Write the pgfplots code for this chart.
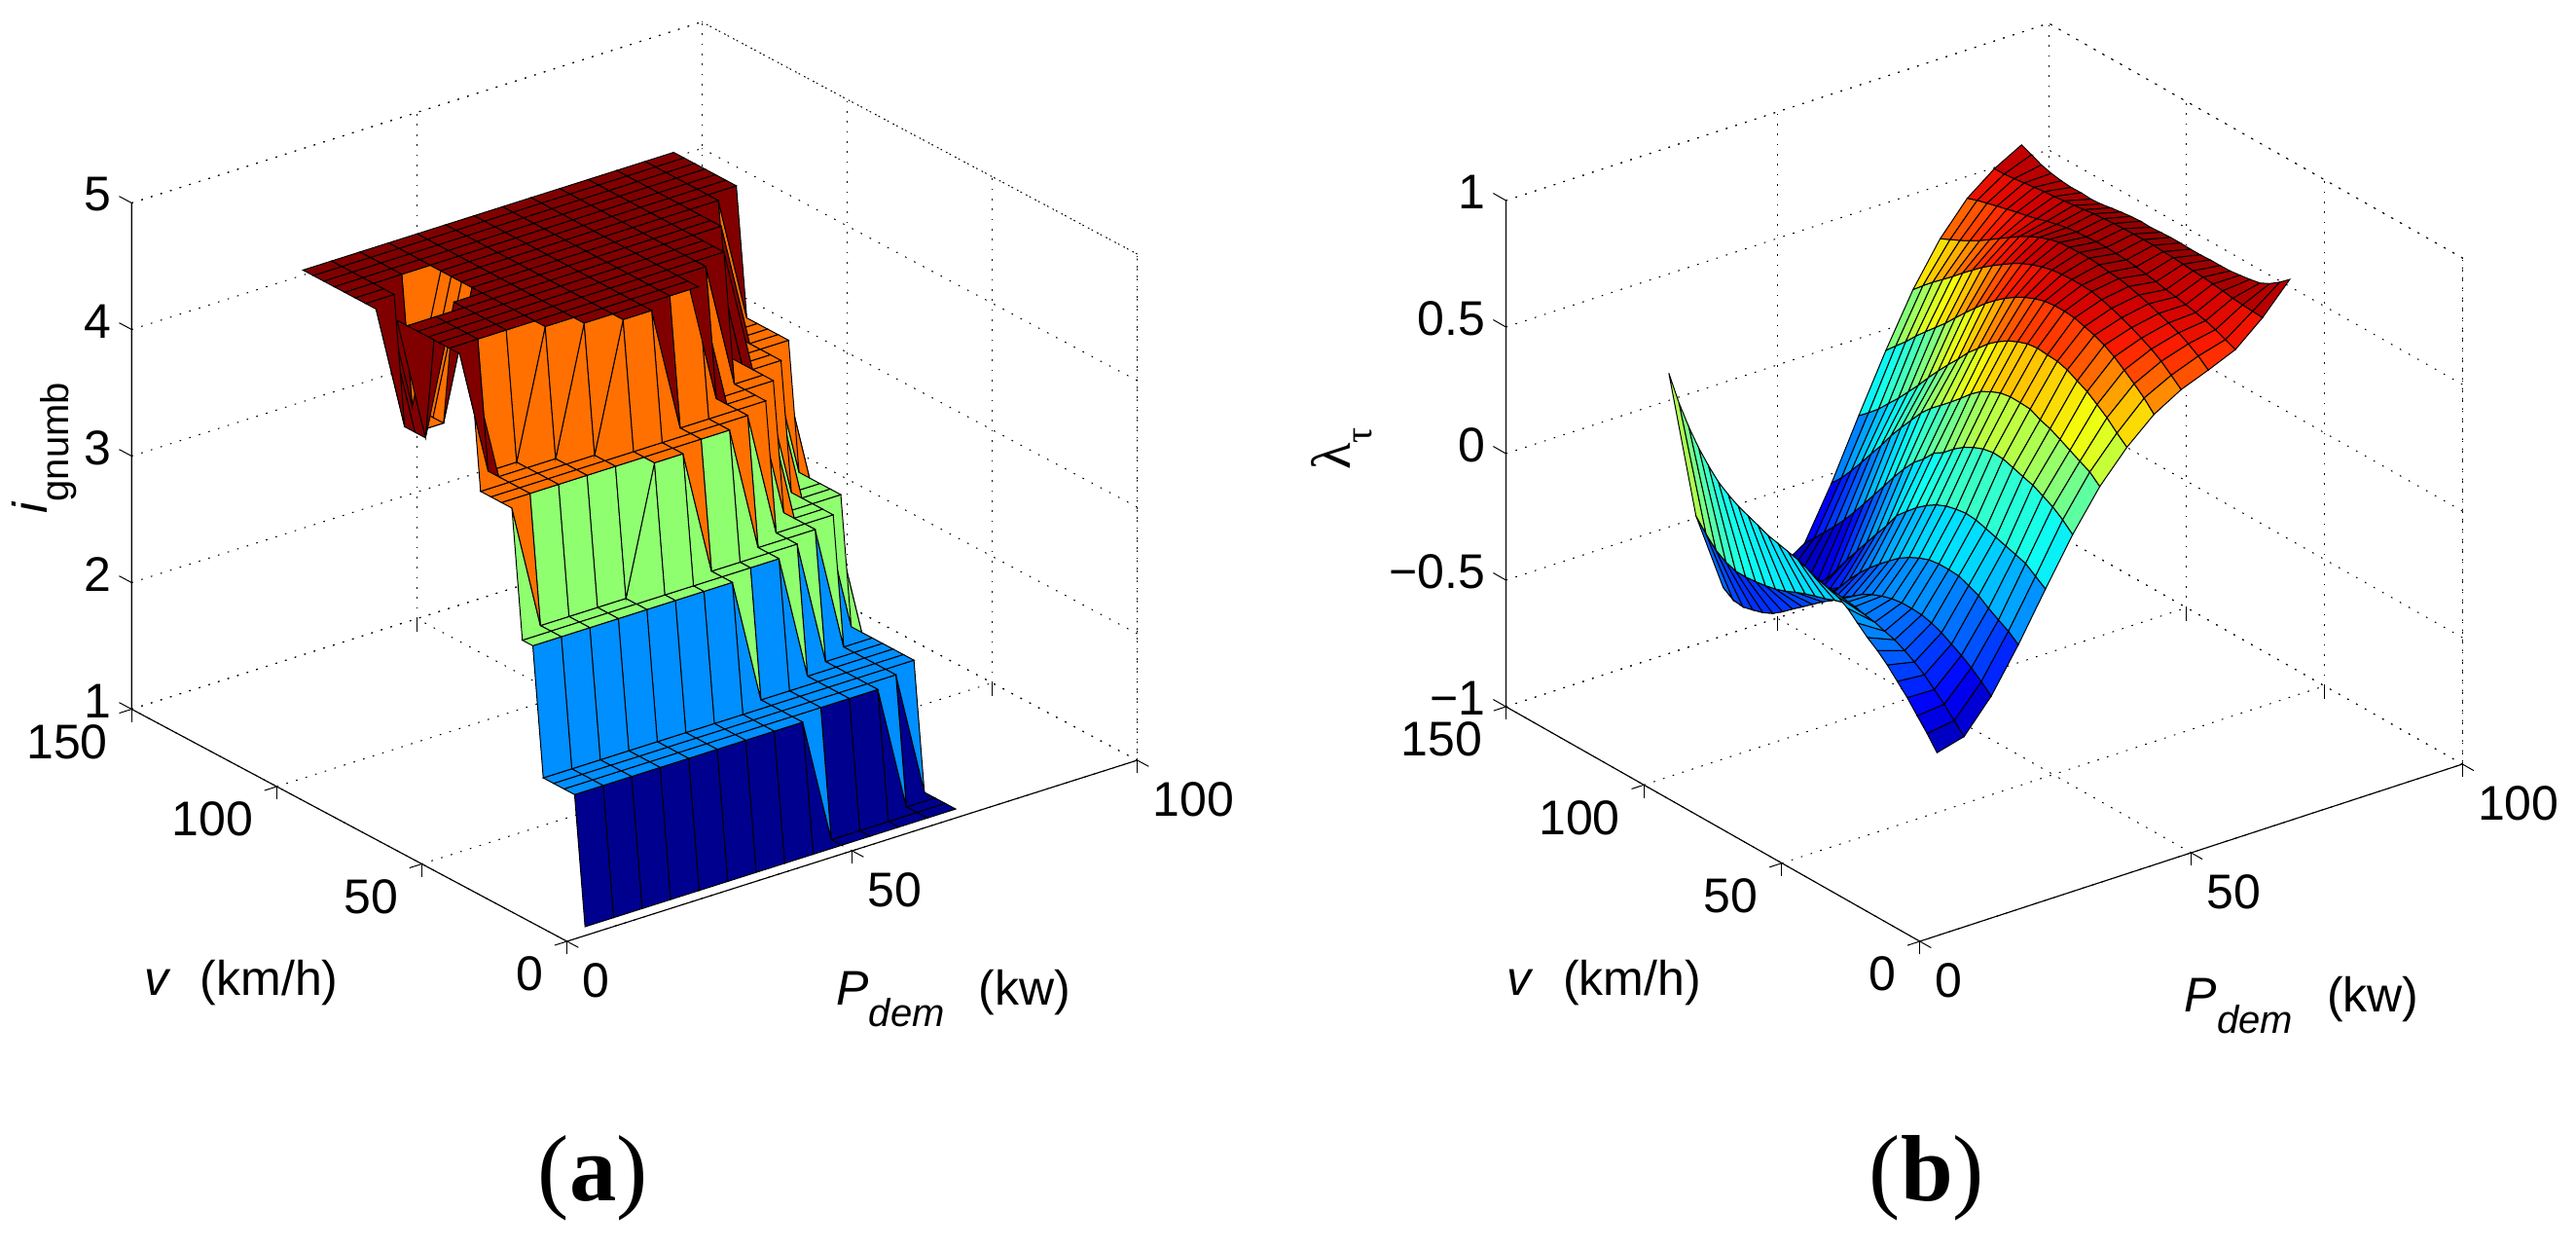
\documentclass[border=0pt]{standalone}
\usepackage{fontspec}
\setmainfont{Liberation Sans}
\newfontfamily\timesf{Liberation Serif}
\usepackage{pgfplots}
\pgfplotsset{compat=1.18}
% jet stops, bent a little so the bands fall where they do in the figure
\pgfplotsset{colormap={mjet}{rgb255=(0,0,143) rgb255=(0,0,196) rgb255=(0,0,250) rgb255=(0,56,255) rgb255=(0,117,255) rgb255=(0,172,255) rgb255=(0,221,255) rgb255=(15,255,240) rgb255=(63,255,192) rgb255=(118,255,137) rgb255=(182,255,73) rgb255=(244,255,11) rgb255=(255,194,0) rgb255=(255,108,0) rgb255=(255,30,0) rgb255=(209,0,0) rgb255=(128,0,0)}}
\pgfplotsset{colormap={gears}{rgb255=(0,0,143) rgb255=(0,143,255) rgb255=(143,255,112) rgb255=(255,112,0) rgb255=(128,0,0)}}
\newcommand{\lab}{\fontsize{15}{16}\selectfont}
\newcommand{\low}[1]{\raisebox{-6.5pt}{\fontsize{12}{12}\selectfont #1}}
\pgfplotsset{
  panel/.style={
    anchor=origin, clip=false,
    xmin=0, xmax=100, ymin=0, ymax=150,
    xtick={0,50,100}, ytick={0,50,100,150},
    grid=major,
    grid style={line width=0.3pt, black, dash pattern=on 0.5pt off 2.6pt},
    axis line style={draw=none},
    tick style={black, line width=0.3pt},
    ztick style={draw=none},
    tick align=outside,
    major tick length=4pt,
    tick label style={font=\lab},
    /pgf/number format/assume math mode=true,
    xtick pos=left, ytick pos=left, ztick pos=right,
    zticklabel pos=left,
    xticklabel style={anchor=north west, xshift=-2.3pt, yshift=-1.3pt},
    yticklabel style={anchor=north east},
    zticklabel style={anchor=east, xshift=0.7pt, yshift=0.7pt},
    label style={font=\lab},
    every axis x label/.append style={anchor=center},
    every axis y label/.append style={anchor=center},
    every axis z label/.append style={anchor=center},
  },
  sheet/.style={surf, shader=flat corner, draw=black, line width=0.3pt, z buffer=sort, mesh/cols=14, mesh/rows=28},
}
\begin{document}
\begin{tikzpicture}
\path[use as bounding box] (0,0) rectangle (794.1pt,384pt);
\begin{axis}[panel,
  at={(174.78pt,93.9pt)},
  x={(1.758pt,0.558pt)}, y={(-0.8946pt,0.477pt)}, z={(0pt,39pt)},
  zmin=1, zmax=5, ztick={1,2,3,4,5},
  colormap name=gears, point meta min=1, point meta max=5,
  xlabel={\textit{P}\low{\textit{dem}}\hspace{0.7em}(kw)},
  ylabel={\textit{v}\hspace{0.6em}(km/h)},
  zlabel={\textit{i}\low{gnumb}},
  every axis x label/.append style={at={(axis cs:67.8,0,-0.42)}},
  every axis y label/.append style={at={(axis cs:-57.1,0,1.486)}},
  every axis z label/.append style={at={(axis cs:-91.7,0,6.21)}},
]
\addplot3[sheet] coordinates {
(5,3.6,1)(10,3.6,1)(15,3.6,1)(20,3.6,1)(25,3.6,1)(30,3.6,1)(35,3.6,1)(40,3.6,1)(45,3.6,1)(50,3.6,1)(55,3.6,1)(60,3.6,1)(65,3.6,1)(70,3.6,1)
(5,7.2,2)(10,7.2,2)(15,7.2,2)(20,7.2,2)(25,7.2,2)(30,7.2,2)(35,7.2,2)(40,7.2,2)(45,7.2,2)(50,7.2,1)(55,7.2,1)(60,7.2,1)(65,7.2,1)(70,7.2,1)
(5,10.8,2)(10,10.8,2)(15,10.8,2)(20,10.8,2)(25,10.8,2)(30,10.8,2)(35,10.8,2)(40,10.8,2)(45,10.8,2)(50,10.8,2)(55,10.8,2)(60,10.8,2)(65,10.8,1)(70,10.8,1)
(5,14.4,2)(10,14.4,2)(15,14.4,2)(20,14.4,2)(25,14.4,2)(30,14.4,2)(35,14.4,2)(40,14.4,2)(45,14.4,2)(50,14.4,2)(55,14.4,2)(60,14.4,2)(65,14.4,2)(70,14.4,1)
(5,18,2)(10,18,2)(15,18,2)(20,18,2)(25,18,2)(30,18,2)(35,18,2)(40,18,2)(45,18,2)(50,18,2)(55,18,2)(60,18,2)(65,18,2)(70,18,2)
(5,21.6,3)(10,21.6,3)(15,21.6,3)(20,21.6,3)(25,21.6,3)(30,21.6,3)(35,21.6,3)(40,21.6,3)(45,21.6,2)(50,21.6,2)(55,21.6,2)(60,21.6,2)(65,21.6,2)(70,21.6,2)
(5,25.2,3)(10,25.2,3)(15,25.2,3)(20,25.2,3)(25,25.2,3)(30,25.2,3)(35,25.2,3)(40,25.2,3)(45,25.2,3)(50,25.2,3)(55,25.2,2)(60,25.2,2)(65,25.2,2)(70,25.2,2)
(5,28.8,4)(10,28.8,3)(15,28.8,3)(20,28.8,3)(25,28.8,3)(30,28.8,4)(35,28.8,4)(40,28.8,3)(45,28.8,3)(50,28.8,3)(55,28.8,3)(60,28.8,2)(65,28.8,2)(70,28.8,2)
(5,32.4,4)(10,32.4,4)(15,32.4,4)(20,32.4,4)(25,32.4,4)(30,32.4,4)(35,32.4,4)(40,32.4,4)(45,32.4,4)(50,32.4,3)(55,32.4,3)(60,32.4,3)(65,32.4,2)(70,32.4,2)
(5,36,4)(10,36,4)(15,36,4)(20,36,4)(25,36,4)(30,36,4)(35,36,4)(40,36,4)(45,36,4)(50,36,4)(55,36,3)(60,36,3)(65,36,3)(70,36,2)
(5,39.6,4)(10,39.6,4)(15,39.6,4)(20,39.6,4)(25,39.6,4)(30,39.6,5)(35,39.6,5)(40,39.6,4)(45,39.6,4)(50,39.6,4)(55,39.6,4)(60,39.6,3)(65,39.6,3)(70,39.6,2)
(5,43.2,5)(10,43.2,4)(15,43.2,4)(20,43.2,4)(25,43.2,5)(30,43.2,5)(35,43.2,5)(40,43.2,5)(45,43.2,5)(50,43.2,4)(55,43.2,4)(60,43.2,3)(65,43.2,3)(70,43.2,3)
(5,46.8,5)(10,46.8,4)(15,46.8,4)(20,46.8,5)(25,46.8,5)(30,46.8,5)(35,46.8,5)(40,46.8,5)(45,46.8,5)(50,46.8,4)(55,46.8,4)(60,46.8,4)(65,46.8,3)(70,46.8,3)
(5,50.4,5)(10,50.4,5)(15,50.4,5)(20,50.4,5)(25,50.4,5)(30,50.4,5)(35,50.4,5)(40,50.4,5)(45,50.4,5)(50,50.4,5)(55,50.4,4)(60,50.4,4)(65,50.4,3)(70,50.4,3)
(5,54,5)(10,54,5)(15,54,5)(20,54,5)(25,54,5)(30,54,5)(35,54,5)(40,54,5)(45,54,5)(50,54,5)(55,54,5)(60,54,4)(65,54,4)(70,54,3)
(5,57.6,5)(10,57.6,5)(15,57.6,5)(20,57.6,5)(25,57.6,5)(30,57.6,5)(35,57.6,5)(40,57.6,5)(45,57.6,5)(50,57.6,5)(55,57.6,5)(60,57.6,4)(65,57.6,4)(70,57.6,3)
(5,61.2,5)(10,61.2,5)(15,61.2,5)(20,61.2,5)(25,61.2,5)(30,61.2,5)(35,61.2,5)(40,61.2,5)(45,61.2,5)(50,61.2,5)(55,61.2,5)(60,61.2,4)(65,61.2,4)(70,61.2,4)
(5,64.8,5)(10,64.8,5)(15,64.8,5)(20,64.8,5)(25,64.8,5)(30,64.8,5)(35,64.8,5)(40,64.8,5)(45,64.8,5)(50,64.8,5)(55,64.8,5)(60,64.8,5)(65,64.8,4)(70,64.8,4)
(5,68.4,5)(10,68.4,4)(15,68.4,5)(20,68.4,5)(25,68.4,5)(30,68.4,5)(35,68.4,5)(40,68.4,5)(45,68.4,5)(50,68.4,5)(55,68.4,5)(60,68.4,5)(65,68.4,4)(70,68.4,4)
(5,72,5)(10,72,4)(15,72,4)(20,72,5)(25,72,5)(30,72,5)(35,72,5)(40,72,5)(45,72,5)(50,72,5)(55,72,5)(60,72,5)(65,72,4)(70,72,4)
(5,75.6,5)(10,75.6,4)(15,75.6,4)(20,75.6,5)(25,75.6,5)(30,75.6,5)(35,75.6,5)(40,75.6,5)(45,75.6,5)(50,75.6,5)(55,75.6,5)(60,75.6,5)(65,75.6,5)(70,75.6,4)
(5,79.2,5)(10,79.2,5)(15,79.2,4)(20,79.2,5)(25,79.2,5)(30,79.2,5)(35,79.2,5)(40,79.2,5)(45,79.2,5)(50,79.2,5)(55,79.2,5)(60,79.2,5)(65,79.2,5)(70,79.2,5)
(5,82.8,5)(10,82.8,5)(15,82.8,4)(20,82.8,5)(25,82.8,5)(30,82.8,5)(35,82.8,5)(40,82.8,5)(45,82.8,5)(50,82.8,5)(55,82.8,5)(60,82.8,5)(65,82.8,5)(70,82.8,5)
(5,86.4,5)(10,86.4,5)(15,86.4,5)(20,86.4,5)(25,86.4,5)(30,86.4,5)(35,86.4,5)(40,86.4,5)(45,86.4,5)(50,86.4,5)(55,86.4,5)(60,86.4,5)(65,86.4,5)(70,86.4,5)
(5,90,5)(10,90,5)(15,90,5)(20,90,5)(25,90,5)(30,90,5)(35,90,5)(40,90,5)(45,90,5)(50,90,5)(55,90,5)(60,90,5)(65,90,5)(70,90,5)
(5,93.6,5)(10,93.6,5)(15,93.6,5)(20,93.6,5)(25,93.6,5)(30,93.6,5)(35,93.6,5)(40,93.6,5)(45,93.6,5)(50,93.6,5)(55,93.6,5)(60,93.6,5)(65,93.6,5)(70,93.6,5)
(5,97.2,5)(10,97.2,5)(15,97.2,5)(20,97.2,5)(25,97.2,5)(30,97.2,5)(35,97.2,5)(40,97.2,5)(45,97.2,5)(50,97.2,5)(55,97.2,5)(60,97.2,5)(65,97.2,5)(70,97.2,5)
(5,100.8,5)(10,100.8,5)(15,100.8,5)(20,100.8,5)(25,100.8,5)(30,100.8,5)(35,100.8,5)(40,100.8,5)(45,100.8,5)(50,100.8,5)(55,100.8,5)(60,100.8,5)(65,100.8,5)(70,100.8,5)
};
\draw[black,line width=0.35pt] (axis cs:0,150,5)--(axis cs:0,150,1)--(axis cs:0,0,1)--(axis cs:100,0,1);
\draw[line width=0.3pt,black,dash pattern=on 0.5pt off 2.6pt] (axis cs:0,150,5)--(axis cs:100,150,5)--(axis cs:100,0,5)--(axis cs:100,0,1);
% z ticks only on the left edge
\draw[black,line width=0.3pt] (axis cs:0,150,1)--(axis cs:0,154.3,1) (axis cs:0,150,2)--(axis cs:0,154.3,2) (axis cs:0,150,3)--(axis cs:0,154.3,3) (axis cs:0,150,4)--(axis cs:0,154.3,4) (axis cs:0,150,5)--(axis cs:0,154.3,5);
\end{axis}
\begin{axis}[panel,
  at={(591.81pt,171.9pt)},
  x={(1.6728pt,0.546pt)}, y={(-0.8505pt,0.4821pt)}, z={(0pt,78pt)},
  zmin=-1, zmax=1, ztick={-1,-0.5,0,0.5,1},
  zticklabels={−1,−0.5,0,0.5,1},
  colormap name=mjet, point meta min=-0.4, point meta max=1.05,
  xlabel={\textit{P}\low{\textit{dem}}\hspace{0.7em}(kw)},
  ylabel={\textit{v}\hspace{0.6em}(km/h)},
  zlabel={{\timesf\fontsize{17}{17}\selectfont λ}\low{\timesf τ}},
  every axis x label/.append style={at={(axis cs:70.4,0,-1.745)}},
  every axis y label/.append style={at={(axis cs:-58.2,0,-0.758)}},
  every axis z label/.append style={at={(axis cs:-106.5,0,1.691)}},
]
\addplot3[sheet, mesh/ordering=y varies] coordinates {
(5,3.6,-.312)(5,7.2,-.258)(5,10.8,-.21)(5,14.4,-.161)(5,18,-.119)(5,21.6,-.077)(5,25.2,-.042)(5,28.8,-.013)(5,32.4,.022)(5,36,.058)(5,39.6,.082)(5,43.2,.097)(5,46.8,.107)(5,50.4,.123)(5,54,.139)(5,57.6,.149)(5,61.2,.159)(5,64.8,.168)(5,68.4,.185)(5,72,.201)(5,75.6,.217)(5,79.2,.24)(5,82.8,.268)(5,86.4,.31)(5,90,.359)(5,93.6,.42)(5,97.2,.494)(5,100.8,.587)
(10,3.6,-.283)(10,7.2,-.242)(10,10.8,-.2)(10,14.4,-.164)(10,18,-.128)(10,21.6,-.1)(10,25.2,-.077)(10,28.8,-.057)(10,32.4,-.045)(10,36,-.032)(10,39.6,-.025)(10,43.2,-.015)(10,46.8,-.022)(10,50.4,-.034)(10,54,-.05)(10,57.6,-.062)(10,61.2,-.075)(10,64.8,-.091)(10,68.4,-.109)(10,72,-.123)(10,75.6,-.132)(10,79.2,-.138)(10,82.8,-.142)(10,86.4,-.141)(10,90,-.127)(10,93.6,-.102)(10,97.2,-.06)(10,100.8,-.012)
(15,3.6,-.158)(15,7.2,-.123)(15,10.8,-.091)(15,14.4,-.064)(15,18,-.042)(15,21.6,-.019)(15,25.2,-.003)(15,28.8,.007)(15,32.4,.01)(15,36,.01)(15,39.6,.004)(15,43.2,-.008)(15,46.8,-.024)(15,50.4,-.046)(15,54,-.075)(15,57.6,-.105)(15,61.2,-.136)(15,64.8,-.164)(15,68.4,-.196)(15,72,-.228)(15,75.6,-.259)(15,79.2,-.292)(15,82.8,-.321)(15,86.4,-.34)(15,90,-.352)(15,93.6,-.362)(15,97.2,-.356)(15,100.8,-.329)
(20,3.6,.01)(20,7.2,.041)(20,10.8,.063)(20,14.4,.087)(20,18,.115)(20,21.6,.132)(20,25.2,.148)(20,28.8,.151)(20,32.4,.151)(20,36,.145)(20,39.6,.13)(20,43.2,.11)(20,46.8,.085)(20,50.4,.052)(20,54,.017)(20,57.6,-.02)(20,61.2,-.062)(20,64.8,-.11)(20,68.4,-.164)(20,72,-.193)(20,75.6,-.22)(20,79.2,-.25)(20,82.8,-.27)(20,86.4,-.29)(20,90,-.305)(20,93.6,-.315)(20,97.2,-.32)(20,100.8,-.32)
(25,3.6,.195)(25,7.2,.223)(25,10.8,.251)(25,14.4,.264)(25,18,.276)(25,21.6,.288)(25,25.2,.3)(25,28.8,.312)(25,32.4,.316)(25,36,.31)(25,39.6,.3)(25,43.2,.283)(25,46.8,.258)(25,50.4,.227)(25,54,.19)(25,57.6,.151)(25,61.2,.089)(25,64.8,.035)(25,68.4,-.022)(25,72,-.078)(25,75.6,-.135)(25,79.2,-.195)(25,82.8,-.256)(25,86.4,-.29)(25,90,-.31)(25,93.6,-.32)(25,97.2,-.33)(25,100.8,-.33)
(30,3.6,.375)(30,7.2,.411)(30,10.8,.44)(30,14.4,.461)(30,18,.481)(30,21.6,.493)(30,25.2,.506)(30,28.8,.518)(30,32.4,.521)(30,36,.513)(30,39.6,.497)(30,43.2,.475)(30,46.8,.446)(30,50.4,.41)(30,54,.385)(30,57.6,.34)(30,61.2,.304)(30,64.8,.256)(30,68.4,.202)(30,72,.144)(30,75.6,.087)(30,79.2,.03)(30,82.8,-.026)(30,86.4,-.079)(30,90,-.127)(30,93.6,-.172)(30,97.2,-.217)(30,100.8,-.261)
(35,3.6,.53)(35,7.2,.565)(35,10.8,.585)(35,14.4,.606)(35,18,.627)(35,21.6,.647)(35,25.2,.66)(35,28.8,.68)(35,32.4,.683)(35,36,.684)(35,39.6,.677)(35,43.2,.66)(35,46.8,.638)(35,50.4,.606)(35,54,.567)(35,57.6,.53)(35,61.2,.495)(35,64.8,.461)(35,68.4,.42)(35,72,.369)(35,75.6,.318)(35,79.2,.264)(35,82.8,.203)(35,86.4,.148)(35,90,.091)(35,93.6,.037)(35,97.2,-.014)(35,100.8,-.057)
(40,3.6,.65)(40,7.2,.684)(40,10.8,.722)(40,14.4,.752)(40,18,.781)(40,21.6,.801)(40,25.2,.822)(40,28.8,.834)(40,32.4,.837)(40,36,.841)(40,39.6,.836)(40,43.2,.822)(40,46.8,.803)(40,50.4,.778)(40,54,.747)(40,57.6,.707)(40,61.2,.668)(40,64.8,.62)(40,68.4,.576)(40,72,.529)(40,75.6,.48)(40,79.2,.428)(40,82.8,.38)(40,86.4,.332)(40,90,.289)(40,93.6,.245)(40,97.2,.208)(40,100.8,.174)
(45,3.6,.745)(45,7.2,.787)(45,10.8,.821)(45,14.4,.853)(45,18,.883)(45,21.6,.907)(45,25.2,.924)(45,28.8,.936)(45,32.4,.948)(45,36,.952)(45,39.6,.952)(45,43.2,.947)(45,46.8,.935)(45,50.4,.918)(45,54,.896)(45,57.6,.87)(45,61.2,.839)(45,64.8,.805)(45,68.4,.765)(45,72,.724)(45,75.6,.682)(45,79.2,.638)(45,82.8,.599)(45,86.4,.56)(45,90,.52)(45,93.6,.476)(45,97.2,.437)(45,100.8,.397)
(50,3.6,.808)(50,7.2,.842)(50,10.8,.875)(50,14.4,.901)(50,18,.922)(50,21.6,.941)(50,25.2,.958)(50,28.8,.973)(50,32.4,.985)(50,36,.995)(50,39.6,.998)(50,43.2,.998)(50,46.8,.996)(50,50.4,.991)(50,54,.981)(50,57.6,.967)(50,61.2,.95)(50,64.8,.928)(50,68.4,.902)(50,72,.875)(50,75.6,.846)(50,79.2,.813)(50,82.8,.779)(50,86.4,.743)(50,90,.709)(50,93.6,.676)(50,97.2,.64)(50,100.8,.602)
(55,3.6,.85)(55,7.2,.883)(55,10.8,.909)(55,14.4,.93)(55,18,.947)(55,21.6,.962)(55,25.2,.978)(55,28.8,.99)(55,32.4,1.002)(55,36,1.011)(55,39.6,1.014)(55,43.2,1.021)(55,46.8,1.025)(55,50.4,1.025)(55,54,1.023)(55,57.6,1.02)(55,61.2,1.01)(55,64.8,.996)(55,68.4,.977)(55,72,.955)(55,75.6,.929)(55,79.2,.903)(55,82.8,.876)(55,86.4,.85)(55,90,.827)(55,93.6,.806)(55,97.2,.787)(55,100.8,.768)
(60,3.6,.896)(60,7.2,.913)(60,10.8,.93)(60,14.4,.943)(60,18,.953)(60,21.6,.962)(60,25.2,.97)(60,28.8,.977)(60,32.4,.986)(60,36,.993)(60,39.6,1)(60,43.2,1.005)(60,46.8,1.008)(60,50.4,1.01)(60,54,1.01)(60,57.6,1.007)(60,61.2,1.004)(60,64.8,.999)(60,68.4,.99)(60,72,.98)(60,75.6,.968)(60,79.2,.958)(60,82.8,.949)(60,86.4,.939)(60,90,.929)(60,93.6,.918)(60,97.2,.907)(60,100.8,.893)
(65,3.6,.987)(65,7.2,.99)(65,10.8,.993)(65,14.4,.997)(65,18,1.004)(65,21.6,1.009)(65,25.2,1.013)(65,28.8,1.016)(65,32.4,1.02)(65,36,1.023)(65,39.6,1.025)(65,43.2,1.028)(65,46.8,1.028)(65,50.4,1.028)(65,54,1.027)(65,57.6,1.025)(65,61.2,1.022)(65,64.8,1.019)(65,68.4,1.013)(65,72,1.008)(65,75.6,1.003)(65,79.2,.998)(65,82.8,.995)(65,86.4,.99)(65,90,.985)(65,93.6,.98)(65,97.2,.976)(65,100.8,.975)
(70,3.6,1.103)(70,7.2,1.07)(70,10.8,1.042)(70,14.4,1.022)(70,18,1.014)(70,21.6,1.008)(70,25.2,1.003)(70,28.8,1.002)(70,32.4,1.002)(70,36,1)(70,39.6,1)(70,43.2,1.002)(70,46.8,1.002)(70,50.4,1)(70,54,.997)(70,57.6,.999)(70,61.2,.996)(70,64.8,.991)(70,68.4,.985)(70,72,.978)(70,75.6,.975)(70,79.2,.978)(70,82.8,.977)(70,86.4,.981)(70,90,.988)(70,93.6,.999)(70,97.2,1.017)(70,100.8,1.034)
};
\draw[black,line width=0.35pt] (axis cs:0,150,1)--(axis cs:0,150,-1)--(axis cs:0,0,-1)--(axis cs:100,0,-1);
\draw[line width=0.3pt,black,dash pattern=on 0.5pt off 2.6pt] (axis cs:0,150,1)--(axis cs:100,150,1)--(axis cs:100,0,1)--(axis cs:100,0,-1);
\draw[black,line width=0.3pt] (axis cs:0,150,-1)--(axis cs:0,154.6,-1) (axis cs:0,150,-0.5)--(axis cs:0,154.6,-0.5) (axis cs:0,150,0)--(axis cs:0,154.6,0) (axis cs:0,150,0.5)--(axis cs:0,154.6,0.5) (axis cs:0,150,1)--(axis cs:0,154.6,1);
\end{axis}
\node[font=\timesf\fontsize{29}{32}\selectfont] at (182.8pt,21pt) {(\textbf{a})};
\node[font=\timesf\fontsize{29}{32}\selectfont] at (594pt,21pt) {(\textbf{b})};
\end{tikzpicture}
\end{document}
